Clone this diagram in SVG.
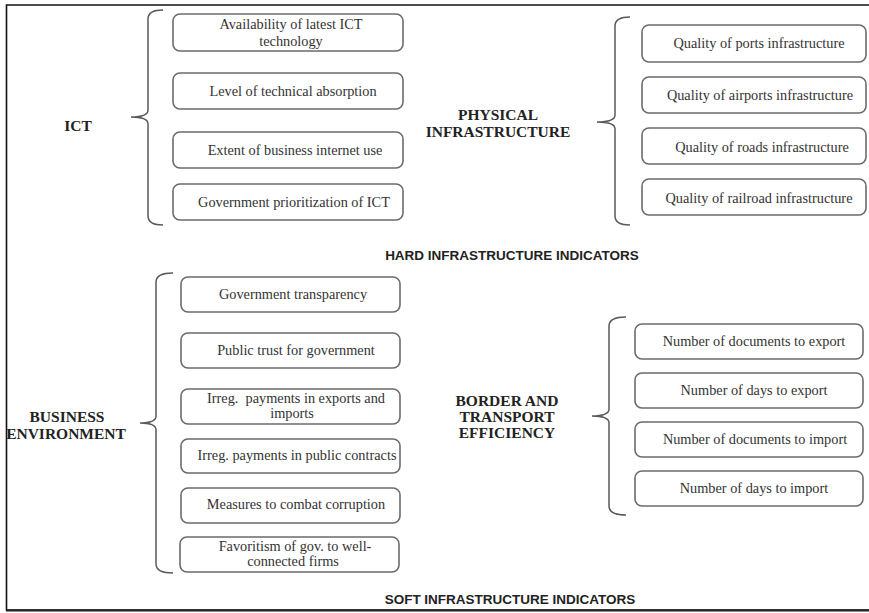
<svg xmlns="http://www.w3.org/2000/svg" width="869" height="613" viewBox="0 0 869 613">
  <style>
    .frame { fill: none; stroke: #111; stroke-width: 1.6; }
    .box { fill: #fff; stroke: #6b6b6b; stroke-width: 1.6; }
    .brace { fill: none; stroke: #5a5a5a; stroke-width: 1.5; }
    .item { font-family: "Liberation Serif", "Times New Roman", serif; font-size: 14.3px; fill: #333; text-anchor: middle; }
    .cat { font-family: "Liberation Serif", "Times New Roman", serif; font-size: 15.5px; font-weight: bold; fill: #222; text-anchor: middle; }
    .head { font-family: "Liberation Sans", Arial, sans-serif; font-size: 13.5px; font-weight: bold; fill: #222; text-anchor: middle; }
  </style>

  <rect width="869" height="613" fill="#fff"/>

  <!-- outer frame (open on the right) -->
  <g id="frame">
    <path class="frame" d="M869,5 L6.5,5 L6.5,610 L869,610"/>
    <line x1="6" y1="610.5" x2="869" y2="610.5" stroke="#222" stroke-width="2"/>
  </g>

  <!-- braces grouping each category with its indicators -->
  <g id="connectors">
    <path class="brace" d="M163,10 Q148,10 148,19 L148,110 Q148,117 131,117 Q148,117 148,124 L148,216 Q148,225 163,225"/>
    <path class="brace" d="M630,17 Q615,17 615,26 L615,115 Q615,122 597,122 Q615,122 615,129 L615,216 Q615,225 630,225"/>
    <path class="brace" d="M173,273 Q156,273 156,282 L156,416 Q156,423 140,423 Q156,423 156,430 L156,564 Q156,573 173,573"/>
    <path class="brace" d="M626,317 Q609,317 609,326 L609,409 Q609,416 592,416 Q609,416 609,423 L609,506 Q609,515 626,515"/>
  </g>

  <!-- ICT -->
  <g id="ict">
    <text class="cat" x="78" y="131">ICT</text>
  </g>
  <g id="ict-latest">
    <rect class="box" x="173" y="14" width="230" height="37" rx="7"/>
    <text class="item" x="291" y="29">Availability of latest ICT</text>
    <text class="item" x="291" y="46">technology</text>
  </g>
  <g id="ict-absorption">
    <rect class="box" x="173" y="73" width="230" height="36" rx="7"/>
    <text class="item" x="293" y="96">Level of technical absorption</text>
  </g>
  <g id="ict-internet">
    <rect class="box" x="173" y="132" width="230" height="36" rx="7"/>
    <text class="item" x="295" y="155">Extent of business internet use</text>
  </g>
  <g id="ict-priority">
    <rect class="box" x="173" y="184" width="230" height="36" rx="7"/>
    <text class="item" x="294" y="207">Government prioritization of ICT</text>
  </g>

  <!-- Physical infrastructure -->
  <g id="physical">
    <text class="cat" x="498" y="120">PHYSICAL</text>
    <text class="cat" x="498" y="137">INFRASTRUCTURE</text>
  </g>
  <g id="phys-ports">
    <rect class="box" x="642" y="25" width="224" height="37" rx="7"/>
    <text class="item" x="759" y="48">Quality of ports infrastructure</text>
  </g>
  <g id="phys-airports">
    <rect class="box" x="642" y="77" width="224" height="36" rx="7"/>
    <text class="item" x="760" y="100">Quality of airports infrastructure</text>
  </g>
  <g id="phys-roads">
    <rect class="box" x="642" y="128" width="224" height="36" rx="7"/>
    <text class="item" x="762" y="152">Quality of roads infrastructure</text>
  </g>
  <g id="phys-railroad">
    <rect class="box" x="642" y="179" width="224" height="36" rx="7"/>
    <text class="item" x="759" y="203">Quality of railroad infrastructure</text>
  </g>

  <g id="hard-heading">
    <text class="head" x="512" y="260">HARD INFRASTRUCTURE INDICATORS</text>
  </g>

  <!-- Business environment -->
  <g id="business">
    <text class="cat" x="67" y="422">BUSINESS</text>
    <text class="cat" x="66" y="439">ENVIRONMENT</text>
  </g>
  <g id="be-transparency">
    <rect class="box" x="181" y="277" width="219" height="35" rx="7"/>
    <text class="item" x="293" y="299">Government transparency</text>
  </g>
  <g id="be-trust">
    <rect class="box" x="181" y="333" width="219" height="35" rx="7"/>
    <text class="item" x="296" y="355">Public trust for government</text>
  </g>
  <g id="be-irreg-trade">
    <rect class="box" x="181" y="389" width="219" height="35" rx="7"/>
    <text class="item" x="296" y="403" xml:space="preserve">Irreg.  payments in exports and</text>
    <text class="item" x="292" y="418">imports</text>
  </g>
  <g id="be-irreg-contracts">
    <rect class="box" x="181" y="439" width="219" height="34" rx="7"/>
    <text class="item" x="297" y="460">Irreg. payments in public contracts</text>
  </g>
  <g id="be-corruption">
    <rect class="box" x="181" y="488" width="219" height="35" rx="7"/>
    <text class="item" x="296" y="509">Measures to combat corruption</text>
  </g>
  <g id="be-favoritism">
    <rect class="box" x="180" y="537" width="219" height="35" rx="7"/>
    <text class="item" x="295" y="551">Favoritism of gov. to well-</text>
    <text class="item" x="293" y="566">connected firms</text>
  </g>

  <!-- Border and transport efficiency -->
  <g id="border">
    <text class="cat" x="507" y="406">BORDER AND</text>
    <text class="cat" x="507" y="422">TRANSPORT</text>
    <text class="cat" x="507" y="438">EFFICIENCY</text>
  </g>
  <g id="bt-docs-export">
    <rect class="box" x="635" y="324" width="228" height="35" rx="7"/>
    <text class="item" x="754" y="346">Number of documents to export</text>
  </g>
  <g id="bt-days-export">
    <rect class="box" x="635" y="373" width="228" height="35" rx="7"/>
    <text class="item" x="754" y="395">Number of days to export</text>
  </g>
  <g id="bt-docs-import">
    <rect class="box" x="635" y="422" width="228" height="35" rx="7"/>
    <text class="item" x="755" y="444">Number of documents to import</text>
  </g>
  <g id="bt-days-import">
    <rect class="box" x="635" y="471" width="228" height="35" rx="7"/>
    <text class="item" x="754" y="493">Number of days to import</text>
  </g>

  <g id="soft-heading">
    <text class="head" x="510" y="604">SOFT INFRASTRUCTURE INDICATORS</text>
  </g>
</svg>
